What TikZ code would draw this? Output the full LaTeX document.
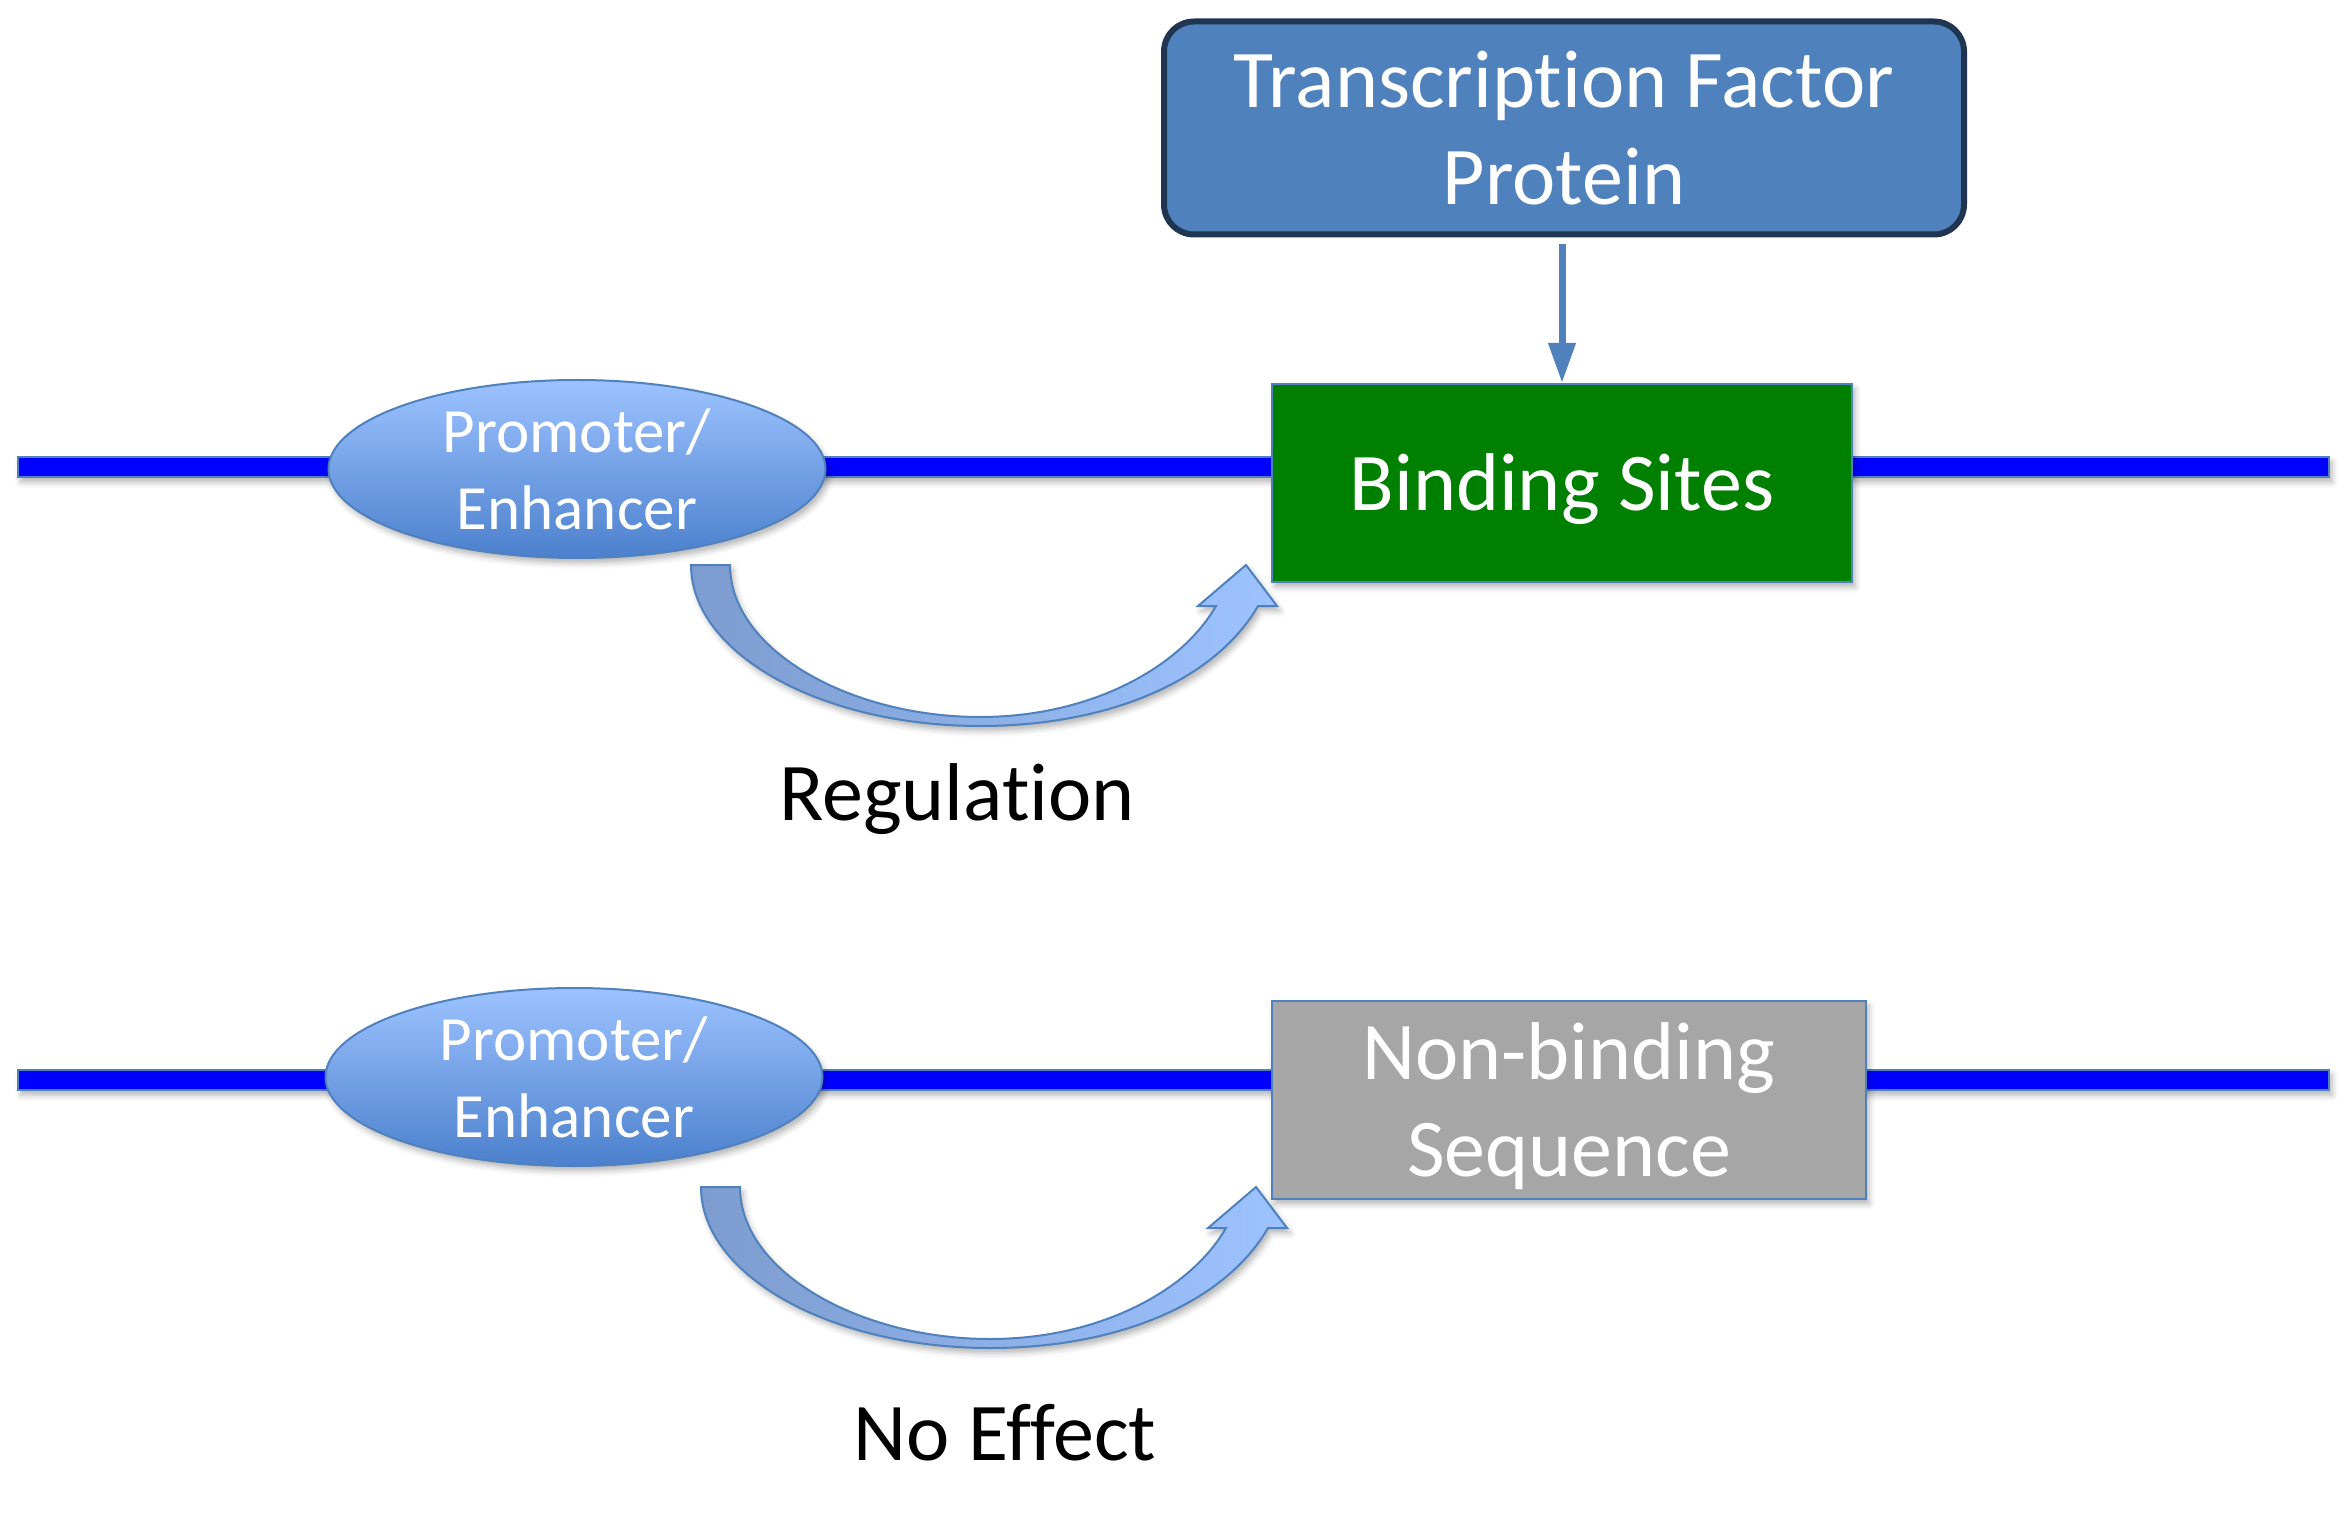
\documentclass[tikz,border=0pt]{standalone}
\usepackage{fontspec}
\setmainfont{Carlito}[Ligatures=NoCommon]
\usetikzlibrary{arrows.meta,shapes.geometric,shadows.blur,backgrounds}
\definecolor{acc}{HTML}{4F81BD}
\definecolor{navy}{HTML}{1F3552}
\definecolor{dna}{HTML}{0000FF}
\definecolor{ellTop}{HTML}{9DC3FF}
\definecolor{ellBot}{HTML}{4C80CD}
\definecolor{arrL}{HTML}{7D9CCF}
\definecolor{arrM}{HTML}{4A7CC6}
\definecolor{arrR}{HTML}{9DC3FF}
\definecolor{site}{HTML}{008000}
\definecolor{nonsite}{HTML}{A6A6A6}
\tikzset{
  softshadow/.style={blur shadow={shadow xshift=1.5pt,shadow yshift=-2.5pt,shadow blur radius=3pt,shadow opacity=30}},
  dnabar/.style={draw=acc,line width=1pt,fill=dna,softshadow},
  promoter/.style={ellipse,draw=acc,line width=1pt,top color=ellTop,bottom color=ellBot,
    minimum width=248.5pt,minimum height=89pt,inner sep=0pt,text=white,align=center,
    font=\fontsize{31.5}{38.5}\selectfont,softshadow},
  seqbox/.style={rectangle,draw=acc,line width=1pt,minimum height=99pt,inner sep=0pt,softshadow},
  boxtext/.style={text=white,align=center,inner sep=0pt,font=\fontsize{41}{48.5}\selectfont},
  tfbox/.style={rectangle,rounded corners=15pt,draw=navy,line width=3pt,fill=acc,
    minimum width=400pt,minimum height=106.5pt,inner sep=0pt,text=white,align=center,
    font=\fontsize{41}{48.5}\selectfont},
  bindarrow/.style={draw=acc,line width=3.5pt,-{Triangle[width=13pt,length=20pt]}},
  curvearrow/.style={draw=acc,line width=1pt,left color=arrL,middle color=arrM,right color=arrR,softshadow},
  caption/.style={text=black,anchor=base,font=\fontsize{41}{48.5}\selectfont}
}
\begin{document}
\begin{tikzpicture}[x=0.5pt,y=-0.5pt]
\useasboundingbox (0,0) rectangle (2346,1535);
% top row
\coordinate (L1) at (18,467);
\coordinate (R1) at (2329,467);
\node[seqbox,fill=site,minimum width=290pt] (bind) at (1562,483) {};
\node[boxtext] (bindtxt) at ([yshift=-3pt]bind.center) {Binding Sites};
\node[promoter] (pe1) at (577,469) {Promoter/\\Enhancer};
\node[tfbox] (tf) at (1564,128) {Transcription Factor\\Protein};
\coordinate (tfout) at (1562,244);
\draw[bindarrow] (tfout) -- (bind.north);
\path[curvearrow] (691,565) .. controls (691,654) and (822,726) .. (980,726)
  .. controls (1110,726) and (1215,680) .. (1258,606) -- (1277,606) -- (1246,565)
  -- (1198,606) -- (1216,606) .. controls (1180,668) and (1090,717) .. (980,717)
  .. controls (850,717) and (730,650) .. (730,565) -- cycle;
\node[caption] (reg) at (957,820) {Regulation};
% bottom row
\coordinate (L2) at (18,1080);
\coordinate (R2) at (2329,1080);
\node[seqbox,fill=nonsite,minimum width=297pt] (non) at (1569,1100) {};
\node[boxtext] (nontxt) at ([yshift=-3pt]non.center) {Non-binding\\Sequence};
\node[promoter] (pe2) at (574,1077) {Promoter/\\Enhancer};
\begin{scope}[shift={(10,622)}]
\path[curvearrow] (691,565) .. controls (691,654) and (822,726) .. (980,726)
  .. controls (1110,726) and (1215,680) .. (1258,606) -- (1277,606) -- (1246,565)
  -- (1198,606) -- (1216,606) .. controls (1180,668) and (1090,717) .. (980,717)
  .. controls (850,717) and (730,650) .. (730,565) -- cycle;
\end{scope}
\node[caption] (noeff) at (1005,1460) {No Effect};
\begin{scope}[on background layer]
\path[dnabar] ([yshift=5pt]L1) rectangle ([yshift=-5pt]R1);
\path[dnabar] ([yshift=5pt]L2) rectangle ([yshift=-5pt]R2);
\end{scope}
\end{tikzpicture}
\end{document}
